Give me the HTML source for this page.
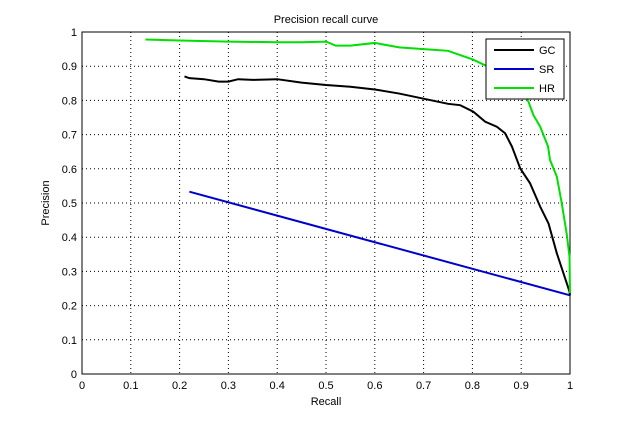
<!DOCTYPE html>
<html><head><meta charset="utf-8"><style>
body{margin:0;background:#fff;width:630px;height:420px;overflow:hidden}
text{font-family:"Liberation Sans",sans-serif;font-size:11px;fill:#000}
</style></head><body>
<svg id="chart" width="630" height="420">
<rect x="0" y="0" width="630" height="420" fill="#fff"/>
<g id="grid"></g><g id="axes"></g><g id="series"></g><g id="legend"></g>
<text x="326" y="23" text-anchor="middle">Precision recall curve</text>
<text x="326" y="405" text-anchor="middle">Recall</text>
<text x="0" y="0" text-anchor="middle" transform="translate(49,203) rotate(-90)">Precision</text>
</svg>
<script>
const xTicks=[0,0.1,0.2,0.3,0.4,0.5,0.6,0.7,0.8,0.9,1];
const yTicks=[0,0.1,0.2,0.3,0.4,0.5,0.6,0.7,0.8,0.9,1];
const seriesNames=["GC","SR","HR"];
const seriesColors=["#000","#0000cc","#00e000"];
const gcRecall=[0.21,0.22,0.25,0.28,0.3,0.32,0.35,0.4,0.45,0.5,0.55,0.6,0.65,0.7,0.75,0.775,0.802,0.826,0.85,0.867,0.881,0.898,0.918,0.939,0.956,0.973,0.999,1];
const gcPrecision=[0.87,0.865,0.862,0.855,0.855,0.862,0.86,0.862,0.852,0.845,0.84,0.832,0.82,0.805,0.79,0.786,0.767,0.738,0.723,0.704,0.665,0.601,0.558,0.489,0.44,0.353,0.241,0.23];
const srRecall=[0.22,1];
const srPrecision=[0.533,0.23];
const hrRecall=[0.13,0.2,0.3,0.4,0.45,0.5,0.52,0.55,0.6,0.65,0.7,0.75,0.78,0.8,0.83,0.86,0.89,0.915,0.925,0.939,0.955,0.959,0.973,0.983,0.993,0.999,1];
const hrPrecision=[0.978,0.975,0.972,0.97,0.97,0.972,0.96,0.96,0.968,0.955,0.95,0.945,0.93,0.92,0.9,0.88,0.85,0.796,0.757,0.723,0.665,0.626,0.577,0.5,0.412,0.343,0.237];
const X0=82,X1=570,Y0=374,Y1=32;
const sx=v=>X0+(X1-X0)*v, sy=v=>Y0-(Y0-Y1)*v;
const NS="http://www.w3.org/2000/svg";
function mk(t,a,p){const e=document.createElementNS(NS,t);for(const k in a)e.setAttribute(k,a[k]);p.appendChild(e);return e;}
const grid=document.getElementById('grid'),axes=document.getElementById('axes'),ser=document.getElementById('series'),leg=document.getElementById('legend');
xTicks.forEach(v=>{
 if(v>0&&v<1){const l=mk('line',{x1:sx(v),x2:sx(v),y1:Y1,y2:Y0,stroke:'#000','stroke-dasharray':'1,3','stroke-width':1},grid);
 
 }
 const t=mk('text',{x:sx(v),y:Y0+15,'text-anchor':'middle'},axes);t.textContent=v;
 
 
});
yTicks.forEach(v=>{
 if(v>0&&v<1){const l=mk('line',{x1:X0,x2:X1,y1:sy(v),y2:sy(v),stroke:'#000','stroke-dasharray':'1,3','stroke-width':1},grid);
 
 }
 const t=mk('text',{x:X0-5,y:sy(v)+4,'text-anchor':'end'},axes);t.textContent=v;
 
 
});
const box=mk('rect',{x:X0,y:Y1,width:X1-X0,height:Y0-Y1,fill:'none',stroke:'#000','stroke-width':1},axes);


const data=[[gcRecall,gcPrecision],[srRecall,srPrecision],[hrRecall,hrPrecision]];
const order=[1,0,2];
order.forEach(i=>{
 const [xs,ys]=data[i];
 const p=mk('polyline',{points:xs.map((x,j)=>sx(x)+','+sy(ys[j])).join(' '),fill:'none',stroke:seriesColors[i],'stroke-width':2},ser);
 
 
});
const lb=mk('rect',{x:486,y:39,width:78,height:60,fill:'#fff',stroke:'#000','stroke-width':1},leg);


seriesNames.forEach((n,i)=>{
 const y=50+i*19;
 const l=mk('line',{x1:494,x2:534,y1:y,y2:y,stroke:seriesColors[i],'stroke-width':2},leg);
 
 
 const t=mk('text',{x:539,y:y+4},leg);t.textContent=n;
 
 
});
</script>
</body></html>
